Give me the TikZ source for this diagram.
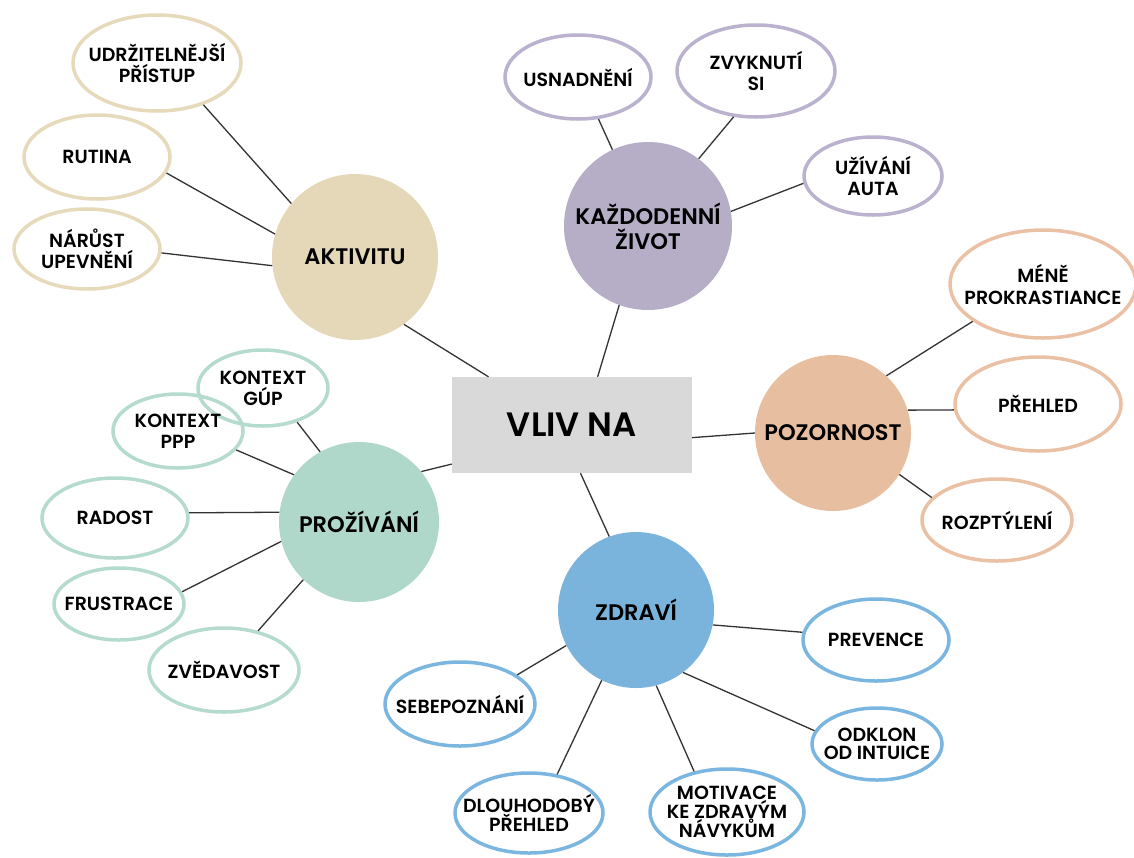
\documentclass[tikz,border=0pt]{standalone}
\usepackage{fontspec}
\setmainfont{Poppins SemiBold}
\usetikzlibrary{shapes.geometric}

\definecolor{sandfill}{HTML}{E5D8B8}
\definecolor{sandline}{HTML}{E6DABB}
\definecolor{lilacfill}{HTML}{B5AEC6}
\definecolor{lilacline}{HTML}{BAB2CE}
\definecolor{peachfill}{HTML}{E8BEA0}
\definecolor{peachline}{HTML}{EBC1A5}
\definecolor{mintfill}{HTML}{B0D8CA}
\definecolor{mintline}{HTML}{B4DBCE}
\definecolor{bluefill}{HTML}{7AB4DC}
\definecolor{blueline}{HTML}{7BB6E0}
\definecolor{boxgray}{HTML}{D9D9D9}
\definecolor{linkgray}{HTML}{333333}

\begin{document}
\begin{tikzpicture}[x=1pt,y=-1pt,
  hub/.style={circle,inner sep=0pt,align=center,text=black,
    font=\fontsize{22.5}{25}\selectfont},
  leaftext/.style={align=center,text=black,inner sep=0pt,
    font=\fontsize{19}{21}\selectfont},
  tighttext/.style={leaftext,font=\fontsize{19}{18.5}\selectfont},
  leaf/.style={ellipse,draw,line width=3.5pt,inner sep=0pt},
  sandleaf/.style={leaf,draw=sandline},
  lilacleaf/.style={leaf,draw=lilacline},
  peachleaf/.style={leaf,draw=peachline},
  mintleaf/.style={leaf,draw=mintline},
  blueleaf/.style={leaf,draw=blueline},
  link/.style={draw=linkgray,line width=1.3pt},
]
\fill[white] (0,0) rectangle (1134,857);
\useasboundingbox (0,0) rectangle (1134,857);

% centre
\node[fill=boxgray,minimum width=240pt,minimum height=96pt,inner sep=0pt,
  font=\fontsize{33.8}{36}\selectfont] (vliv) at (572,425) {VLIV NA};

% main topics
\node[hub,fill=sandfill,minimum size=166pt] (aktivitu) at (355,257) {AKTIVITU};
\node[hub,fill=lilacfill,minimum size=168pt] (zivot) at (648,226) {KAŽDODENNÍ\\ŽIVOT};
\node[hub,fill=peachfill,minimum size=156pt] (pozornost) at (833,433) {POZORNOST};
\node[hub,fill=mintfill,minimum size=160pt] (prozivani) at (359,522) {PROŽÍVÁNÍ};
\node[hub,fill=bluefill,minimum size=156pt] (zdravi) at (636,610) {ZDRAVÍ};

% AKTIVITU
\node[sandleaf,minimum width=168pt,minimum height=96pt,
  label={[leaftext]center:UDRŽITELNĚJŠÍ\\PŘÍSTUP}] (udrz) at (157,63) {};
\node[sandleaf,minimum width=146pt,minimum height=84pt,
  label={[leaftext]center:RUTINA}] (rutina) at (97,157) {};
\node[sandleaf,minimum width=146pt,minimum height=80pt,
  label={[leaftext]center:NÁRŮST\\UPEVNĚNÍ}] (narust) at (87,249) {};

% KAŽDODENNÍ ŽIVOT
\node[lilacleaf,minimum width=146pt,minimum height=84pt,
  label={[leaftext]center:USNADNĚNÍ}] (usnad) at (578,77) {};
\node[lilacleaf,minimum width=158pt,minimum height=92pt,
  label={[leaftext]center:ZVYKNUTÍ\\SI}] (zvyk) at (756,71) {};
\node[lilacleaf,minimum width=138pt,minimum height=78pt,
  label={[leaftext]center:UŽÍVÁNÍ\\AUTA}] (auta) at (873,176) {};

% POZORNOST
\node[peachleaf,minimum width=186pt,minimum height=108pt,
  label={[leaftext,font=\fontsize{19}{22}\selectfont]center:MÉNĚ\\PROKRASTIANCE}] (mene) at (1043,284) {};
\node[peachleaf,minimum width=166pt,minimum height=94pt,
  label={[leaftext]center:PŘEHLED}] (prehled) at (1038,404) {};
\node[peachleaf,minimum width=150pt,minimum height=82pt,
  label={[leaftext]center:ROZPTÝLENÍ}] (rozpt) at (997,520) {};

% PROŽÍVÁNÍ
\node[mintleaf,minimum width=130pt,minimum height=76pt,
  label={[leaftext]center:KONTEXT\\GÚP}] (gup) at (263,388) {};
\node[mintleaf,minimum width=130pt,minimum height=74pt,
  label={[leaftext]center:KONTEXT\\PPP}] (ppp) at (178,431) {};
\node[mintleaf,minimum width=146pt,minimum height=80pt,
  label={[leaftext]center:RADOST}] (radost) at (115,518) {};
\node[mintleaf,minimum width=130pt,minimum height=72pt,
  label={[leaftext]center:FRUSTRACE}] (frustrace) at (119,604) {};
\node[mintleaf,minimum width=150pt,minimum height=84pt,
  label={[leaftext]center:ZVĚDAVOST}] (zvedavost) at (224,670) {};

% ZDRAVÍ
\node[blueleaf,minimum width=150pt,minimum height=84pt,
  label={[leaftext]center:SEBEPOZNÁNÍ}] (sebe) at (460,704) {};
\node[blueleaf,minimum width=148pt,minimum height=80pt,
  label={[tighttext]center:DLOUHODOBÝ\\PŘEHLED}] (dlouho) at (529,813) {};
\node[blueleaf,minimum width=154pt,minimum height=86pt,
  label={[tighttext]center:MOTIVACE\\KE ZDRAVÝM\\NÁVYKŮM}] (motivace) at (727,812) {};
\node[blueleaf,minimum width=146pt,minimum height=82pt,
  label={[leaftext]center:PREVENCE}] (prevence) at (876,640) {};
\node[blueleaf,minimum width=130pt,minimum height=72pt,
  label={[tighttext]center:ODKLON\\OD INTUICE}] (odklon) at (877,744) {};

% links to the centre
\draw[link] (aktivitu.-54) -- (vliv.150);
\draw[link] (zivot.-110) -- (vliv.62);
\draw[link] (pozornost.180) -- (vliv.-6);
\draw[link] (prozivani.39) -- (vliv.198);
\draw[link] (zdravi.110) -- (vliv.-80);

% AKTIVITU links
\draw[link] (aktivitu.140) -- (udrz.-42);
\draw[link] (aktivitu.164) -- (rutina.-13);
\draw[link] (aktivitu.186) -- (narust.-3);

% KAŽDODENNÍ ŽIVOT links
\draw[link] (zivot.115) -- (usnad.-64);
\draw[link] (zivot.53) -- (zvyk.-116);
\draw[link] (zivot.10) -- (auta.186);

% POZORNOST links
\draw[link] (pozornost.47) -- (mene.-152);
\draw[link] (pozornost.17) -- (prehled.184);
\draw[link] (pozornost.-32) -- (rozpt.161);

% PROŽÍVÁNÍ links
\draw[link] (prozivani.119) -- (gup.-45);
\draw[link] (prozivani.144) -- (ppp.-18);
\draw[link] (prozivani.173) -- (radost.4);
\draw[link] (prozivani.194) -- (frustrace.11);
\draw[link] (prozivani.-134) -- (zvedavost.49);

% ZDRAVÍ links
\draw[link] (zdravi.-153) -- (sebe.27);
\draw[link] (zdravi.-116) -- (dlouho.54);
\draw[link] (zdravi.-75) -- (motivace.129);
\draw[link] (zdravi.-11) -- (prevence.174);
\draw[link] (zdravi.-53) -- (odklon.168);
\end{tikzpicture}
\end{document}
